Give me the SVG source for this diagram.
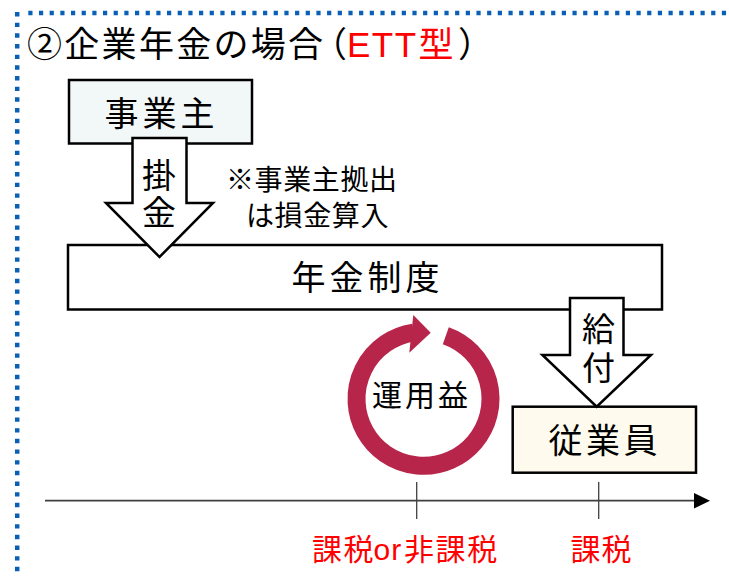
<svg xmlns="http://www.w3.org/2000/svg" width="729" height="577" viewBox="0 0 729 577">
<style>
.jp{font-family:"Noto Sans CJK JP","Noto Sans CJK SC",sans-serif;fill:#000}
.lat{font-family:"Liberation Sans",Arial,sans-serif}
.red{fill:#FF0000}
.halt{font-feature-settings:"halt" 1}
.box{stroke:#000;stroke-width:2.5}
.blk{fill:#FFFFFF;stroke:#000;stroke-width:2.5;stroke-linejoin:miter}
.dot{fill:none;stroke:#0A60B5;stroke-width:4.5}
.axis{stroke:#3F3F3F;stroke-width:1.8;fill:none}
.tick{stroke:#404040;stroke-width:1.3;fill:none}
</style>
<rect width="729" height="577" fill="#FFFFFF"/>
<g id="frame">
<path class="dot" d="M17.2 12 V600" stroke-dasharray="4.4 6.27"/>
<path class="dot" d="M28.3 13 H740" stroke-dasharray="4.2 6.47"/>
</g>
<g id="title">
<text class="jp" y="57" font-size="35" letter-spacing="2.3"><tspan x="27">②企業年金の場合</tspan><tspan x="329.5" class="halt" letter-spacing="0">（</tspan><tspan x="347" class="lat red" letter-spacing="1.5">ETT</tspan><tspan x="418.5" class="red" letter-spacing="0">型</tspan><tspan x="458" class="halt" letter-spacing="0">）</tspan></text>
</g>
<g id="employer">
<rect class="box" x="69" y="80" width="183" height="63.5" fill="#F2F7F7"/>
<text class="jp" x="104.5" y="126" font-size="34" letter-spacing="4">事業主</text>
</g>
<g id="pension">
<rect class="box" x="68" y="245" width="594" height="64.5" fill="#FFFFFF"/>
<text class="jp" x="291.5" y="290" font-size="34" letter-spacing="4">年金制度</text>
</g>
<g id="employee">
<rect class="box" x="512.7" y="406.7" width="183.3" height="66" fill="#FEFBEE"/>
<text class="jp" x="548.5" y="453" font-size="34" letter-spacing="3.5">従業員</text>
</g>
<g id="note">
<text class="jp" font-size="28" letter-spacing="0.6"><tspan x="226" y="190">※事業主拠出</tspan><tspan x="246" y="226">は損金算入</tspan></text>
</g>
<g id="returns">
<path d="M445.8 335.65 A67 67 0 1 1 413.4 332.6" fill="none" stroke="#B7254B" stroke-width="18"/>
<polygon points="413.3,315 430.7,332.7 409.3,352.7" fill="#B7254B"/>
<text class="jp" x="372" y="406" font-size="30" letter-spacing="3">運用益</text>
</g>
<g id="connectors">
<g id="contribution">
<polygon class="blk" points="132.5,138 186.5,138 186.5,203 213,203 159.5,257 106,203 132.5,203"/>
<text class="jp" font-size="34" text-anchor="middle"><tspan x="159" y="188">掛</tspan><tspan x="159" y="225">金</tspan></text>
</g>
<g id="benefit">
<polygon class="blk" points="570,298 623.5,298 623.5,355 651,355 596.7,406.7 542.4,355 570,355"/>
<text class="jp" font-size="33" text-anchor="middle"><tspan x="598.5" y="341">給</tspan><tspan x="598.5" y="380">付</tspan></text>
</g>
</g>
<g id="timeline">
<line class="axis" x1="45" y1="500.7" x2="696" y2="500.7"/>
<polygon points="694,493 710,500.7 694,508.4" fill="#000"/>
<line class="tick" x1="416.7" y1="482" x2="416.7" y2="519"/>
<line class="tick" x1="598.7" y1="482" x2="598.7" y2="519"/>
<text class="jp red" y="560" font-size="30" letter-spacing="1.6"><tspan x="312">課税</tspan><tspan x="373.5" class="lat" letter-spacing="1">or</tspan><tspan x="404">非課税</tspan></text>
<text class="jp red" x="570.5" y="560" font-size="30" letter-spacing="1">課税</text>
</g>
</svg>
